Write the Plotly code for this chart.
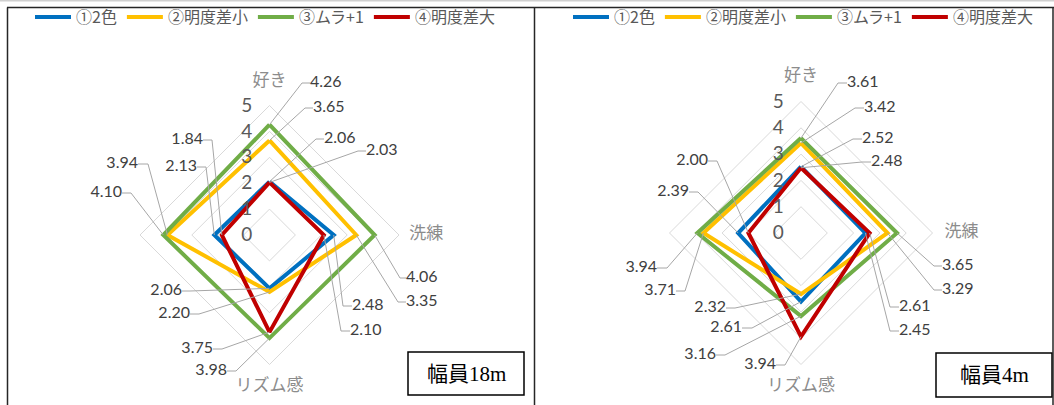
import math
import plotly.graph_objects as go

W, H = 1054, 405

# ---------------- data ----------------
categories = ['好き', '洗練', 'リズム感', 'まとまり']
series_names = ['①2色', '②明度差小', '③ムラ+1', '④明度差大']
series_colors = ['#0070C0', '#FFC000', '#70AD47', '#C00000']

w18_two_color = [2.06, 2.48, 2.06, 2.13]
w18_low_diff = [3.65, 3.35, 2.20, 3.94]
w18_mura = [4.26, 4.06, 3.98, 4.10]
w18_high_diff = [2.03, 2.10, 3.75, 1.84]

w4_two_color = [2.52, 2.45, 2.61, 2.39]
w4_low_diff = [3.42, 3.29, 2.32, 3.71]
w4_mura = [3.61, 3.65, 3.16, 3.94]
w4_high_diff = [2.48, 2.61, 3.94, 2.00]

radial_ticks = [0, 1, 2, 3, 4, 5]
panel_titles = ['幅員18m', '幅員4m']

# ---------------- layout parameters ----------------
RMAX = 6.3
axis_angles = [0, 90, 180, 270]  # clockwise from top

panels = [
    dict(cx=269.5, cy=235, u=25.9,
         data=[w18_two_color, w18_low_diff, w18_mura, w18_high_diff],
         # (series, axis, side, label-end x, y, elbow x) in pixels
         labels=[
             (2, 0, 'R', 310, 83, 302), (1, 0, 'R', 313, 108, 305),
             (0, 0, 'R', 324, 139, 316), (3, 0, 'R', 366, 151, 358),
             (3, 3, 'L', 203, 140, 212), (0, 3, 'L', 197, 167, 206),
             (1, 3, 'L', 138, 164, 148), (2, 3, 'L', 122, 193, 131),
             (0, 2, 'L', 182, 291, 190), (1, 2, 'L', 190, 314, 199),
             (3, 2, 'L', 213, 349, 222), (2, 2, 'L', 227, 371, 236),
             (0, 1, 'R', 352, 306, 343), (3, 1, 'R', 350, 331, 341),
             (2, 1, 'R', 406, 278, 400), (1, 1, 'R', 406, 302, 398),
         ],
         cat_r=[5.9, 6.05, 5.85, 6.7],
         legend_x=265, box=(408, 352, 524, 395)),
    dict(cx=801, cy=233, u=26.3,
         data=[w4_two_color, w4_low_diff, w4_mura, w4_high_diff],
         labels=[
             (2, 0, 'R', 847, 83, 838), (1, 0, 'R', 864, 108, 855),
             (0, 0, 'R', 862, 139, 853), (3, 0, 'R', 871, 162, 862),
             (3, 3, 'L', 708, 161, 717), (0, 3, 'L', 689, 192, 698),
             (2, 3, 'L', 657, 268, 667), (1, 3, 'L', 676, 291, 685),
             (1, 2, 'L', 726, 308, 735), (0, 2, 'L', 742, 328, 752),
             (2, 2, 'L', 716, 355, 725), (3, 2, 'L', 776, 365, 785),
             (2, 1, 'R', 942, 266, 934), (1, 1, 'R', 942, 290, 934),
             (3, 1, 'R', 899, 307, 890), (0, 1, 'R', 899, 331, 890),
         ],
         cat_r=[5.93, 6.1, 5.85, 6.7],
         legend_x=803, box=(936, 353, 1052, 397)),
]

NUM_FONT = 'Lato, Noto Sans CJK JP, sans-serif'
JP_FONT = 'Noto Sans CJK JP, sans-serif'


def to_polar(x, y, cx, cy, u):
    dx = (x - cx) / u
    dy = (cy - y) / u
    return math.hypot(dx, dy), math.degrees(math.atan2(dx, dy))


fig = go.Figure()
layout_updates = {}
shapes = []
annotations = []

for pi, p in enumerate(panels):
    main_id = 'polar' if pi == 0 else f'polar{2 * pi + 1}'
    over_id = f'polar{2 * pi + 2}'
    legend_id = 'legend' if pi == 0 else f'legend{pi + 1}'
    rad_px = RMAX * p['u']
    dom = dict(x=[(p['cx'] - rad_px) / W, (p['cx'] + rad_px) / W],
               y=[(H - p['cy'] - rad_px) / H, (H - p['cy'] + rad_px) / H])

    # data series
    for si, vals in enumerate(p['data']):
        fig.add_trace(go.Scatterpolar(
            r=vals + [vals[0]], theta=categories + [categories[0]],
            mode='lines', name=series_names[si],
            line=dict(color=series_colors[si], width=4),
            subplot=main_id, legend=legend_id, hoverinfo='skip'))

    # leader lines and labels (overlay polar with numeric angles)
    lr, lt = [], []
    txt = {'L': ([], [], []), 'R': ([], [], [])}
    for (si, ai, side, ex, ey, bx) in p['labels']:
        v = p['data'][si][ai]
        r1, t1 = to_polar(bx, ey, p['cx'], p['cy'], p['u'])
        r2, t2 = to_polar(ex, ey, p['cx'], p['cy'], p['u'])
        lr += [v, r1, r2, None]
        lt += [axis_angles[ai], t1, t2, None]
        txt[side][0].append(r2)
        txt[side][1].append(t2)
        txt[side][2].append(f'{v:.2f}')
    fig.add_trace(go.Scatterpolar(
        r=lr, theta=lt, mode='lines', line=dict(color='#A6A6A6', width=1),
        connectgaps=False, subplot=over_id, showlegend=False, hoverinfo='skip'))
    for side, pos in (('L', 'middle left'), ('R', 'middle right')):
        rr, tt, ss = txt[side]
        fig.add_trace(go.Scatterpolar(
            r=rr, theta=tt, text=ss, mode='text', textposition=pos,
            textfont=dict(family=NUM_FONT, size=16, color='#404040'),
            cliponaxis=False, subplot=over_id, showlegend=False, hoverinfo='skip'))
    # category labels
    fig.add_trace(go.Scatterpolar(
        r=p['cat_r'], theta=axis_angles, text=categories, mode='text',
        textposition='middle center',
        textfont=dict(family=JP_FONT, size=17, color='#8C8C8C'),
        cliponaxis=False, subplot=over_id, showlegend=False, hoverinfo='skip'))

    layout_updates[main_id] = dict(
        domain=dom, bgcolor='rgba(0,0,0,0)', gridshape='linear',
        radialaxis=dict(range=[0, RMAX], tickvals=radial_ticks, showline=False,
                        gridcolor='#D9D9D9', gridwidth=1.2, angle=90,
                        side='counterclockwise', ticks='outside', ticklen=10,
                        tickcolor='rgba(0,0,0,0)', tickangle=90,
                        tickfont=dict(family=NUM_FONT, size=19, color='#595959')),
        angularaxis=dict(rotation=90, direction='clockwise', showline=False,
                         showgrid=False, showticklabels=False, ticks='',
                         categoryorder='array', categoryarray=categories))
    layout_updates[over_id] = dict(
        domain=dom, bgcolor='rgba(0,0,0,0)',
        radialaxis=dict(range=[0, RMAX], visible=False),
        angularaxis=dict(rotation=90, direction='clockwise', visible=False,
                         thetaunit='degrees'))
    layout_updates[legend_id] = dict(
        orientation='h', x=p['legend_x'] / W, xanchor='center',
        y=1, yanchor='top', bgcolor='rgba(0,0,0,0)',
        itemwidth=36,
        font=dict(family=JP_FONT, size=16, color='#595959'))

    bx0, by0, bx1, by1 = p['box']
    shapes.append(dict(type='rect', xref='paper', yref='paper',
                       x0=bx0 / W, x1=bx1 / W, y0=1 - by1 / H, y1=1 - by0 / H,
                       line=dict(color='#000000', width=1.5), fillcolor='white'))
    annotations.append(dict(xref='paper', yref='paper',
                            x=(bx0 + bx1) / 2 / W, y=1 - (by0 + by1) / 2 / H,
                            xanchor='center', yanchor='middle',
                            text=panel_titles[pi], showarrow=False,
                            font=dict(family='Liberation Serif, Noto Sans CJK JP, serif',
                                      size=21, color='#000000')))

# panel borders
border = dict(color='#262626', width=1.5)
shapes += [
    dict(type='line', xref='paper', yref='paper', x0=0, x1=1, y0=1 - 0.7 / H, y1=1 - 0.7 / H,
         line=dict(color='#D0D0D0', width=1.5)),
    dict(type='line', xref='paper', yref='paper', x0=7 / W, x1=1, y0=1 - 7.5 / H, y1=1 - 7.5 / H, line=border),
    dict(type='line', xref='paper', yref='paper', x0=7.5 / W, x1=7.5 / W, y0=0, y1=1 - 7.5 / H, line=border),
    dict(type='line', xref='paper', yref='paper', x0=534.5 / W, x1=534.5 / W, y0=0, y1=1 - 7.5 / H, line=border),
    dict(type='line', xref='paper', yref='paper', x0=1053 / W, x1=1053 / W, y0=0, y1=1 - 7.5 / H, line=border),
]

fig.update_layout(width=W, height=H, margin=dict(l=0, r=0, t=0, b=0),
                  paper_bgcolor='white', plot_bgcolor='white',
                  shapes=shapes, annotations=annotations, **layout_updates)

fig.write_html('out.html')
